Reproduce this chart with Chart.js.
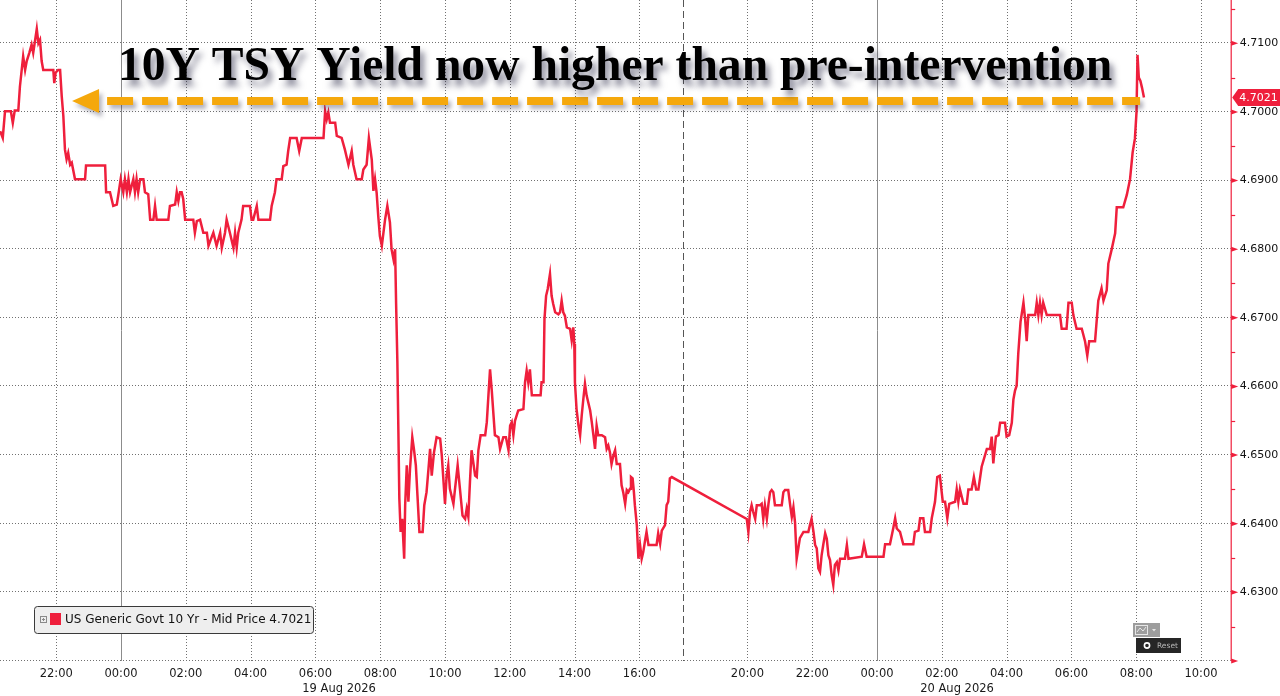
<!DOCTYPE html>
<html>
<head>
<meta charset="utf-8">
<title>10Y TSY Yield</title>
<script src="https://cdn.jsdelivr.net/npm/chart.js@4.4.1/dist/chart.umd.min.js"></script>
<style>
  html, body { margin: 0; padding: 0; background: #fff; }
  #wrap { position: relative; width: 1280px; height: 696px; }
</style>
</head>
<body>
<div id="wrap"><canvas id="grafico"></canvas></div>
<script>
// ================= DADOS =================
// horas desde 19 Aug 2026 00:00 (negativo = noite de 18 Aug)
const horas = [
  -3.73,-3.65,-3.58,-3.40,-3.34,-3.28,-3.17,-3.12,-3.02,-2.96,
  -2.91,-2.83,-2.76,-2.71,-2.65,-2.60,-2.55,-2.50,-2.45,-2.40,
  -2.09,-2.06,-2.02,-1.94,-1.88,-1.83,-1.78,-1.73,-1.68,-1.63,
  -1.57,-1.52,-1.42,-1.11,-1.08,-0.49,-0.46,-0.34,-0.24,-0.13,
  -0.08,-0.01,0.07,0.12,0.18,0.23,0.28,0.38,0.43,0.48,
  0.53,0.59,0.69,0.74,0.84,0.90,1.00,1.05,1.10,1.46,
  1.51,1.67,1.72,1.77,1.82,1.87,1.92,1.98,2.23,2.28,
  2.34,2.44,2.54,2.65,2.70,2.85,2.95,3.06,3.11,3.21,
  3.26,3.36,3.47,3.52,3.57,3.62,3.72,3.77,3.98,4.03,
  4.08,4.19,4.24,4.60,4.65,4.75,4.80,4.96,5.01,5.11,
  5.16,5.22,5.42,5.50,5.58,6.25,6.30,6.35,6.40,6.45,
  6.61,6.66,6.81,6.91,7.02,7.12,7.17,7.27,7.43,7.48,
  7.58,7.65,7.74,7.79,7.84,7.89,7.94,7.99,8.05,8.15,
  8.22,8.30,8.35,8.41,8.46,8.49,8.53,8.56,8.59,8.63,
  8.68,8.74,8.77,8.82,8.87,8.92,8.99,9.04,9.10,9.15,
  9.21,9.31,9.36,9.43,9.49,9.54,9.59,9.66,9.74,9.85,
  9.90,10.00,10.05,10.10,10.15,10.26,10.31,10.39,10.46,10.54,
  10.62,10.67,10.72,10.77,10.82,10.93,10.98,11.03,11.10,11.24,
  11.29,11.34,11.39,11.44,11.54,11.65,11.70,11.80,11.88,11.96,
  12.01,12.06,12.11,12.16,12.26,12.42,12.47,12.52,12.57,12.62,
  12.68,12.95,12.98,13.04,13.07,13.12,13.17,13.24,13.29,13.34,
  13.40,13.50,13.55,13.60,13.65,13.70,13.76,13.86,13.91,13.96,
  13.99,14.01,14.06,14.12,14.17,14.22,14.27,14.32,14.37,14.42,
  14.48,14.53,14.58,14.63,14.68,14.73,14.84,14.94,14.99,15.04,
  15.09,15.14,15.20,15.25,15.30,15.40,15.45,15.50,15.56,15.61,
  15.66,15.71,15.74,15.79,15.83,15.86,15.92,15.97,16.02,16.07,
  16.12,16.17,16.22,16.28,16.53,16.58,16.64,16.69,16.79,16.84,
  16.89,16.94,17.00,19.98,20.03,20.08,20.13,20.18,20.24,20.29,
  20.39,20.44,20.49,20.54,20.60,20.65,20.70,20.75,20.80,20.85,
  21.06,21.11,21.16,21.26,21.32,21.37,21.42,21.47,21.52,21.57,
  21.62,21.73,21.88,21.93,21.98,22.04,22.09,22.14,22.19,22.24,
  22.29,22.34,22.40,22.45,22.50,22.55,22.60,22.65,22.70,22.76,
  22.81,22.86,23.01,23.07,23.12,23.53,23.60,23.68,24.20,24.25,
  24.40,24.50,24.56,24.61,24.71,24.81,25.12,25.17,25.28,25.33,
  25.43,25.48,25.64,25.69,25.79,25.86,25.94,26.03,26.10,26.17,
  26.23,26.41,26.46,26.51,26.56,26.67,26.77,26.82,26.92,26.99,
  27.06,27.13,27.23,27.39,27.49,27.54,27.59,27.67,27.75,27.80,
  27.95,28.00,28.08,28.16,28.21,28.26,28.31,28.36,28.43,28.52,
  28.57,28.62,28.67,28.88,28.93,28.98,29.03,29.08,29.13,29.24,
  29.65,29.70,29.85,29.91,30.01,30.06,30.16,30.32,30.42,30.49,
  30.55,30.73,30.83,30.93,30.99,31.09,31.14,31.24,31.35,31.40,
  31.60,31.71,31.81,31.89,31.96,32.01,32.04,32.08,32.13,32.18,32.24
];

// US Generic Govt 10 Yr - Mid Price
const yields = [
  4.6972,4.6962,4.7001,4.7001,4.6984,4.7002,4.7002,4.7037,4.7081,4.7061,
  4.7074,4.7086,4.7098,4.7086,4.7105,4.7121,4.7100,4.7105,4.7074,4.7061,
  4.7061,4.7042,4.7057,4.7061,4.7061,4.7023,4.6994,4.6945,4.6931,4.6940,
  4.6923,4.6926,4.6902,4.6902,4.6922,4.6922,4.6883,4.6883,4.6863,4.6865,
  4.6880,4.6902,4.6883,4.6902,4.6883,4.6902,4.6883,4.6902,4.6883,4.6902,
  4.6883,4.6902,4.6902,4.6883,4.6880,4.6843,4.6843,4.6863,4.6843,4.6843,
  4.6863,4.6865,4.6883,4.6870,4.6883,4.6883,4.6873,4.6843,4.6843,4.6824,
  4.6841,4.6843,4.6824,4.6824,4.6805,4.6824,4.6805,4.6824,4.6802,4.6824,
  4.6843,4.6824,4.6802,4.6824,4.6802,4.6824,4.6843,4.6863,4.6863,4.6843,
  4.6843,4.6863,4.6843,4.6843,4.6863,4.6883,4.6902,4.6902,4.6921,4.6923,
  4.6943,4.6962,4.6962,4.6943,4.6962,4.6962,4.7001,4.6989,4.6999,4.6984,
  4.6984,4.6965,4.6962,4.6945,4.6923,4.6943,4.6923,4.6902,4.6902,4.6916,
  4.6923,4.6962,4.6930,4.6885,4.6902,4.6882,4.6848,4.6819,4.6805,4.6843,
  4.6863,4.6839,4.6800,4.6785,4.6800,4.6722,4.6635,4.6538,4.6437,4.6388,
  4.6407,4.6349,4.6427,4.6485,4.6432,4.6480,4.6526,4.6509,4.6485,4.6441,
  4.6388,4.6388,4.6427,4.6446,4.6480,4.6509,4.6470,4.6504,4.6526,4.6524,
  4.6500,4.6429,4.6470,4.6485,4.6451,4.6429,4.6451,4.6485,4.6451,4.6412,
  4.6407,4.6422,4.6410,4.6461,4.6507,4.6470,4.6468,4.6507,4.6529,4.6529,
  4.6548,4.6587,4.6625,4.6596,4.6529,4.6526,4.6509,4.6526,4.6526,4.6507,
  4.6543,4.6548,4.6529,4.6550,4.6565,4.6567,4.6606,4.6623,4.6606,4.6625,
  4.6587,4.6587,4.6606,4.6606,4.6698,4.6732,4.6742,4.6764,4.6732,4.6720,
  4.6708,4.6705,4.6708,4.6725,4.6708,4.6703,4.6686,4.6684,4.6667,4.6686,
  4.6662,4.6606,4.6567,4.6543,4.6529,4.6558,4.6582,4.6604,4.6587,4.6577,
  4.6565,4.6548,4.6529,4.6509,4.6543,4.6529,4.6529,4.6526,4.6509,4.6514,
  4.6504,4.6487,4.6500,4.6507,4.6487,4.6487,4.6456,4.6446,4.6429,4.6449,
  4.6446,4.6451,4.6468,4.6466,4.6446,4.6427,4.6398,4.6349,4.6369,4.6349,
  4.6359,4.6374,4.6388,4.6369,4.6369,4.6386,4.6371,4.6390,4.6398,4.6427,
  4.6432,4.6466,4.6468,4.6407,4.6388,4.6417,4.6427,4.6417,4.6407,4.6427,
  4.6427,4.6429,4.6407,4.6427,4.6407,4.6429,4.6446,4.6449,4.6446,4.6427,
  4.6427,4.6446,4.6449,4.6449,4.6427,4.6410,4.6424,4.6402,4.6349,4.6364,
  4.6379,4.6388,4.6388,4.6398,4.6407,4.6388,4.6369,4.6364,4.6335,4.6330,
  4.6354,4.6369,4.6386,4.6378,4.6354,4.6347,4.6325,4.6311,4.6340,4.6344,
  4.6332,4.6349,4.6349,4.6369,4.6349,4.6352,4.6370,4.6352,4.6352,4.6370,
  4.6370,4.6393,4.6408,4.6393,4.6388,4.6370,4.6370,4.6388,4.6390,4.6408,
  4.6408,4.6388,4.6388,4.6408,4.6432,4.6468,4.6470,4.6432,4.6432,4.6408,
  4.6429,4.6432,4.6450,4.6432,4.6450,4.6429,4.6429,4.6450,4.6450,4.6468,
  4.6450,4.6450,4.6483,4.6509,4.6509,4.6527,4.6488,4.6527,4.6529,4.6547,
  4.6547,4.6527,4.6529,4.6547,4.6581,4.6594,4.6601,4.6648,4.6694,4.6722,
  4.6699,4.6666,4.6704,4.6704,4.6722,4.6704,4.6722,4.6704,4.6722,4.6704,
  4.6704,4.6684,4.6684,4.6722,4.6722,4.6704,4.6684,4.6684,4.6666,4.6645,
  4.6666,4.6666,4.6725,4.6743,4.6725,4.6740,4.6779,4.6799,4.6823,4.6861,
  4.6861,4.6879,4.6902,4.6941,4.6961,4.7000,4.7083,4.7050,4.7045,4.7035,4.7021
];

// eixo X: marcas a cada 2 horas (sem 18:00, pausa da sessão)
const xTickHoras = [-2, 0, 2, 4, 6, 8, 10, 12, 14, 16, 20, 22, 24, 26, 28, 30, 32, 34];
const xTickLabels = ['22:00', '00:00', '02:00', '04:00', '06:00', '08:00', '10:00', '12:00', '14:00',
                     '16:00', '20:00', '22:00', '00:00', '02:00', '04:00', '06:00', '08:00', '10:00'];
const meiasNoites = [0, 24];
const pausaSessao = 18;
const datas = ['19 Aug 2026', '20 Aug 2026'];
const datasHoras = [6.73, 26.47];

// eixo Y
const yTicks = [4.63, 4.64, 4.65, 4.66, 4.67, 4.68, 4.69, 4.70, 4.71];
const yMin = 4.620, yMax = 4.7163;

// anotação
const titulo = '10Y TSY Yield now higher than pre-intervention';
const setaNivel = 4.7016;
const setaPonta = -1.51;
const setaFim = 32.12;

const ultimo = yields[yields.length - 1];
const legendaTexto = 'US Generic Govt 10 Yr - Mid Price ' + ultimo.toFixed(4);

const VERMELHO = '#ef1f3c';
const LARANJA = '#f5a80c';

// Bloomberg comprime a pausa 17:00-18:00
function eixo(h) {
  if (h <= 17) return h;
  if (h >= 18) return h - 2 / 3;
  return 17 + (h - 17) / 3;
}

// ================= DESENHOS EXTRA =================
const extras = {
  id: 'extras',
  beforeDatasetsDraw(chart) {
    const { ctx, chartArea: a, scales: { x, y } } = chart;
    ctx.save();
    ctx.lineWidth = 1;
    ctx.strokeStyle = '#707070';
    ctx.setLineDash([1, 2]);
    [yMin, ...yTicks].forEach(v => {
      const py = Math.round(y.getPixelForValue(v)) - 0.5;
      ctx.beginPath(); ctx.moveTo(a.left, py); ctx.lineTo(a.right, py); ctx.stroke();
    });
    xTickHoras.forEach(h => {
      if (meiasNoites.includes(h)) return;
      const px = Math.round(x.getPixelForValue(eixo(h))) + 0.5;
      ctx.beginPath(); ctx.moveTo(px, a.top); ctx.lineTo(px, a.bottom); ctx.stroke();
    });
    // meia-noite: linha cheia
    ctx.setLineDash([]);
    ctx.strokeStyle = '#8c8c8c';
    meiasNoites.forEach(h => {
      const px = Math.round(x.getPixelForValue(eixo(h))) + 0.5;
      ctx.beginPath(); ctx.moveTo(px, a.top); ctx.lineTo(px, a.bottom); ctx.stroke();
    });
    // pausa da sessão: tracejado
    ctx.setLineDash([7, 4]);
    ctx.strokeStyle = '#555';
    const pb = Math.round(x.getPixelForValue(eixo(pausaSessao))) + 0.5;
    ctx.beginPath(); ctx.moveTo(pb, a.top); ctx.lineTo(pb, a.bottom); ctx.stroke();
    ctx.restore();
  },
  afterDraw(chart) {
    const { ctx, chartArea: a, scales: { x, y } } = chart;
    ctx.save();

    // eixo vermelho à direita
    ctx.strokeStyle = VERMELHO;
    ctx.fillStyle = VERMELHO;
    ctx.lineWidth = 1.2;
    const ax = a.right + 0.5;
    ctx.beginPath(); ctx.moveTo(ax, a.top); ctx.lineTo(ax, a.bottom); ctx.stroke();
    [yMin, ...yTicks].forEach(v => {
      const py = y.getPixelForValue(v);
      ctx.beginPath();
      ctx.moveTo(ax, py - 2.5); ctx.lineTo(ax + 7, py); ctx.lineTo(ax, py + 2.5);
      ctx.closePath(); ctx.fill();
    });
    [yMin, ...yTicks].forEach(v => {
      const py = Math.round(y.getPixelForValue(v + 0.005)) + 0.5;
      if (py < a.top) return;
      ctx.beginPath(); ctx.moveTo(ax, py); ctx.lineTo(ax + 4, py); ctx.stroke();
    });

    // etiqueta do último valor
    const ly = y.getPixelForValue(ultimo);
    ctx.beginPath();
    ctx.moveTo(ax + 1, ly);
    ctx.lineTo(ax + 7, ly - 8.5);
    ctx.lineTo(1280, ly - 8.5);
    ctx.lineTo(1280, ly + 8.5);
    ctx.lineTo(ax + 7, ly + 8.5);
    ctx.closePath();
    ctx.fill();
    ctx.fillStyle = '#fff';
    ctx.font = '11px "DejaVu Sans"';
    ctx.textBaseline = 'middle';
    ctx.textAlign = 'left';
    ctx.fillText(ultimo.toFixed(4), ax + 8, ly + 0.5);

    // datas
    ctx.fillStyle = '#1a1a1a';
    ctx.font = '11.5px "DejaVu Sans"';
    ctx.textAlign = 'center';
    datas.forEach((d, i) => ctx.fillText(d, x.getPixelForValue(eixo(datasHoras[i])), 689));

    // seta laranja tracejada
    const sy = y.getPixelForValue(setaNivel);
    const sx0 = x.getPixelForValue(eixo(setaPonta));
    const sx1 = x.getPixelForValue(eixo(setaFim));
    ctx.shadowColor = 'rgba(40,40,70,0.35)';
    ctx.shadowBlur = 4;
    ctx.shadowOffsetX = 3;
    ctx.shadowOffsetY = 4;
    ctx.fillStyle = LARANJA;
    ctx.beginPath();
    ctx.moveTo(sx0, sy); ctx.lineTo(sx0 + 27, sy - 12); ctx.lineTo(sx0 + 27, sy + 12);
    ctx.closePath(); ctx.fill();
    ctx.strokeStyle = LARANJA;
    ctx.lineWidth = 8;
    ctx.setLineDash([26, 9]);
    ctx.beginPath(); ctx.moveTo(sx0 + 35, sy); ctx.lineTo(sx1, sy); ctx.stroke();
    ctx.setLineDash([]);

    // título
    ctx.font = 'bold 100px "Liberation Serif"';
    const k = 995 / ctx.measureText(titulo).width;
    ctx.font = 'bold ' + (100 * k).toFixed(1) + 'px "Liberation Serif"';
    ctx.shadowColor = 'rgba(40,40,70,0.55)';
    ctx.shadowBlur = 6;
    ctx.shadowOffsetX = 4;
    ctx.shadowOffsetY = 6;
    ctx.fillStyle = '#000';
    ctx.textAlign = 'left';
    ctx.textBaseline = 'alphabetic';
    ctx.fillText(titulo, 118, 80);
    ctx.shadowColor = 'transparent';

    // legenda
    ctx.beginPath();
    ctx.roundRect(34.5, 606.5, 279, 27, 3);
    ctx.fillStyle = '#eeeeee';
    ctx.fill();
    ctx.strokeStyle = '#3a3a3a';
    ctx.lineWidth = 1;
    ctx.stroke();
    ctx.strokeStyle = '#8a8a8a';
    ctx.strokeRect(40.5, 616.5, 6, 6);
    ctx.beginPath(); ctx.moveTo(42, 619.5); ctx.lineTo(45, 619.5); ctx.moveTo(43.5, 618); ctx.lineTo(43.5, 621); ctx.stroke();
    ctx.fillStyle = VERMELHO;
    ctx.fillRect(50, 613, 11, 12);
    ctx.fillStyle = '#111';
    ctx.font = '12px "DejaVu Sans"';
    ctx.textBaseline = 'middle';
    ctx.fillText(legendaTexto, 65, 620);

    // botões do canto (tipo de gráfico / Reset)
    ctx.fillStyle = '#9d9d9d';
    ctx.fillRect(1133, 623, 27, 14);
    ctx.strokeStyle = '#e6e6e6';
    ctx.strokeRect(1135.5, 625.5, 12, 9);
    ctx.beginPath(); ctx.moveTo(1137, 632); ctx.lineTo(1140, 628); ctx.lineTo(1143, 631); ctx.lineTo(1146, 627); ctx.stroke();
    ctx.fillStyle = '#e6e6e6';
    ctx.beginPath(); ctx.moveTo(1152, 629); ctx.lineTo(1156, 629); ctx.lineTo(1154, 631.5); ctx.closePath(); ctx.fill();
    ctx.fillStyle = '#262626';
    ctx.fillRect(1136, 638, 45, 15);
    ctx.strokeStyle = '#fff';
    ctx.lineWidth = 1.6;
    ctx.beginPath(); ctx.arc(1147, 645.5, 2.6, 0, Math.PI * 2); ctx.stroke();
    ctx.fillStyle = '#b5b5b5';
    ctx.font = '7.5px "DejaVu Sans"';
    ctx.fillText('Reset', 1157, 646);

    ctx.restore();
  }
};

// ================= GRÁFICO =================
Chart.defaults.font.family = '"DejaVu Sans", sans-serif';

new Chart(document.getElementById('grafico'), {
  type: 'line',
  data: {
    datasets: [{
      label: 'US Generic Govt 10 Yr - Mid Price',
      data: horas.map((h, i) => ({ x: eixo(h), y: yields[i] })),
      borderColor: VERMELHO,
      borderWidth: 2.5,
      pointRadius: 0,
      tension: 0,
      fill: false
    }]
  },
  options: {
    responsive: true,
    maintainAspectRatio: false,
    animation: false,
    layout: { padding: 0 },
    plugins: { legend: { display: false }, tooltip: { enabled: false } },
    scales: {
      x: {
        type: 'linear',
        min: -3.735,
        max: 34.25,
        grid: { display: false, drawTicks: false },
        border: { display: false },
        afterBuildTicks: s => { s.ticks = xTickHoras.map(h => ({ value: eixo(h) })); },
        afterFit: s => { s.height = 35; s.paddingLeft = 0; s.paddingRight = 0; },
        ticks: {
          autoSkip: false,
          maxRotation: 0,
          padding: 6,
          color: '#1a1a1a',
          font: { size: 11.5 },
          callback: (v, i) => xTickLabels[i]
        }
      },
      y: {
        position: 'right',
        min: yMin,
        max: yMax,
        grid: { display: false, drawTicks: false },
        border: { display: false },
        afterBuildTicks: s => { s.ticks = yTicks.map(v => ({ value: v })); },
        afterFit: s => { s.width = 49.3; s.paddingTop = 0; s.paddingBottom = 0; },
        ticks: {
          padding: 9,
          color: '#111',
          font: { size: 11 },
          callback: v => Number(v).toFixed(4)
        }
      }
    }
  },
  plugins: [extras]
});
</script>
</body>
</html>
